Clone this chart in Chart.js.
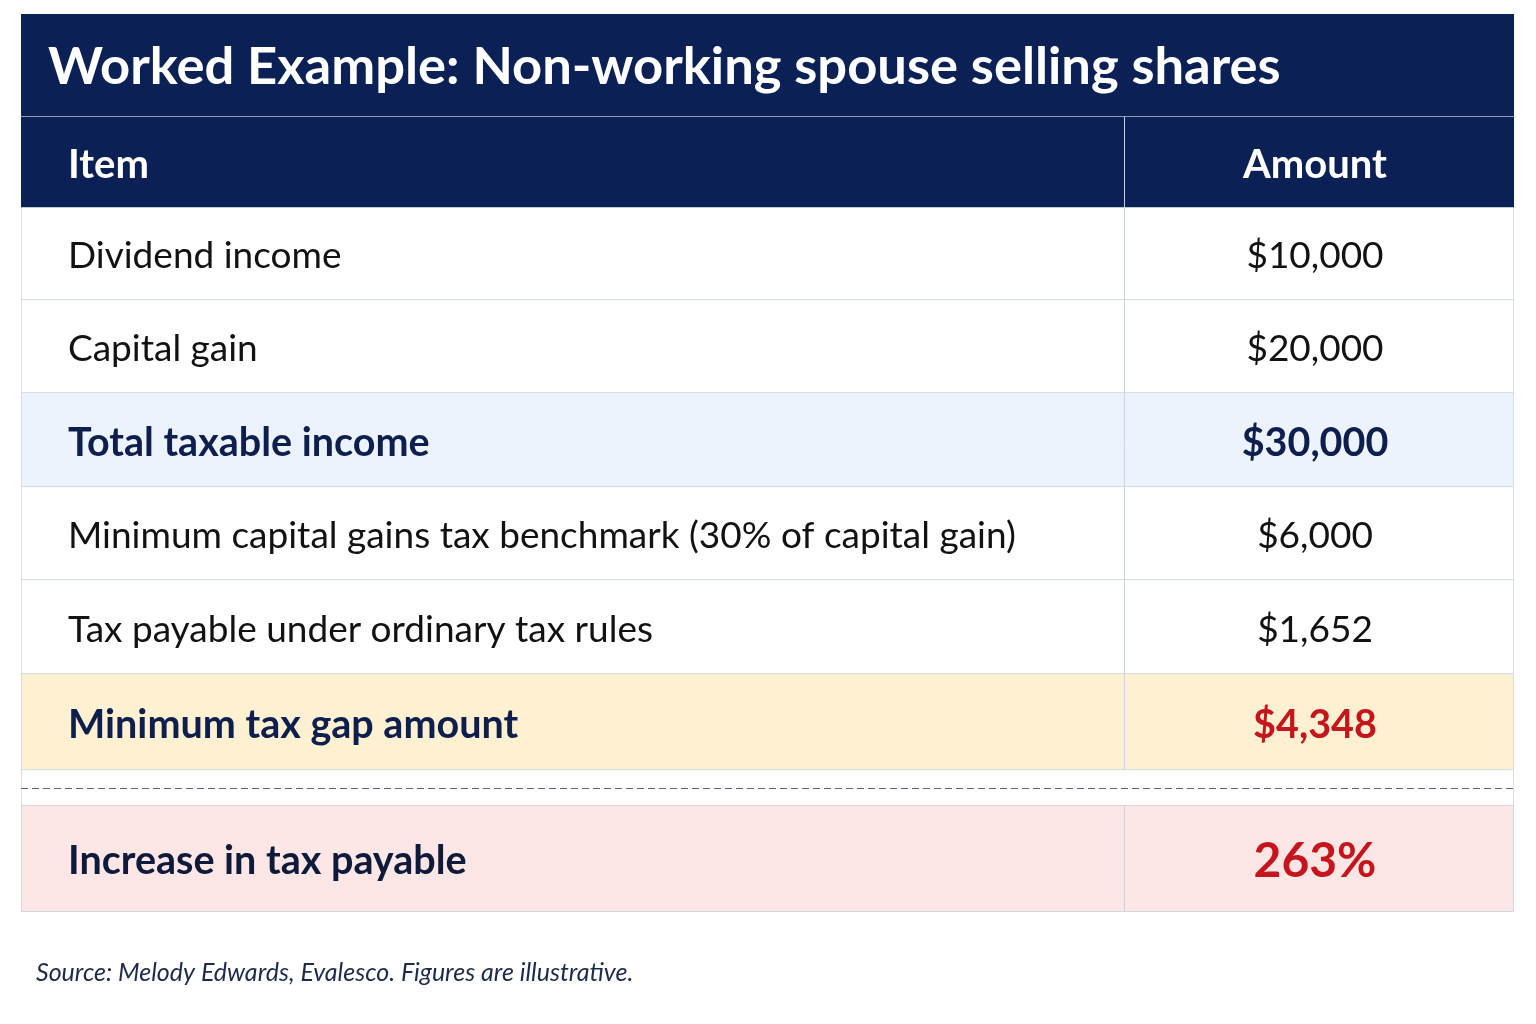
<!DOCTYPE html>
<html>
<head>
<meta charset="utf-8">
<script src="https://cdn.jsdelivr.net/npm/chart.js@4.4.1/dist/chart.umd.min.js"></script>
<style>
  html, body { margin: 0; padding: 0; background: #ffffff; }
  #wrap { width: 1536px; height: 1024px; }
</style>
</head>
<body>
<div id="wrap"><canvas id="tableChart" width="1536" height="1024"></canvas></div>
<script>
// table content
var titleText = "Worked Example: Non-working spouse selling shares";
var headerLabels = ["Item", "Amount"];
var items = [
  "Dividend income",
  "Capital gain",
  "Total taxable income",
  "Minimum capital gains tax benchmark (30% of capital gain)",
  "Tax payable under ordinary tax rules",
  "Minimum tax gap amount"
];
var amounts = ["$10,000", "$20,000", "$30,000", "$6,000", "$1,652", "$4,348"];
var resultLabel = "Increase in tax payable";
var resultValue = "263%";
var sourceText = "Source: Melody Edwards, Evalesco. Figures are illustrative.";

// layout (row heights in px units, top to bottom)
var titleH = 102, spacerH = 1, headerH = 90;
var rowHeights = [93, 93, 94, 93, 94, 96];
var gapH = 35, resultH = 107;
var tableW = 1493, splitAt = 1103, textLeft = 47, amountMid = 1294;
var textNudge = 3;

var NAVY = "#0b2155";
var BORDER = "#c9d3e2";
var rowStyles = [
  { bg: "#ffffff", bold: false, color: "#121212", amountColor: "#121212" },
  { bg: "#ffffff", bold: false, color: "#121212", amountColor: "#121212" },
  { bg: "#edf3fc", bold: true, color: "#0e1f4d", amountColor: "#0e1f4d" },
  { bg: "#ffffff", bold: false, color: "#121212", amountColor: "#121212" },
  { bg: "#ffffff", bold: false, color: "#121212", amountColor: "#121212" },
  { bg: "#fdf1d2", bold: true, color: "#0e1f4d", amountColor: "#c4161c" }
];

// build bands
var bands = [];
var y = 0;
bands.push({ key: "title", from: y, to: y + titleH, bg: NAVY, border: { top: 0, left: 0, right: 0, bottom: 0 } });
y += titleH + spacerH;
bands.push({ key: "header", from: y, to: y + headerH, bg: NAVY, border: { top: 0, left: 0, right: 0, bottom: 0 } });
y += headerH;
items.forEach(function (label, i) {
  bands.push({ key: "row" + i, from: y, to: y + rowHeights[i], bg: rowStyles[i].bg,
    border: { top: 0, left: 1, right: 1, bottom: 1 } });
  y += rowHeights[i];
});
bands.push({ key: "gap", from: y, to: y + gapH, bg: "#ffffff", border: { top: 0, left: 1, right: 1, bottom: 0 } });
y += gapH;
bands.push({ key: "result", from: y, to: y + resultH, bg: "#fce6e6", border: { top: 1, left: 1, right: 1, bottom: 1 } });
y += resultH;
var totalH = y;

var datasets = bands.map(function (b) {
  return {
    label: b.key,
    data: [[b.from, b.to]],
    backgroundColor: b.bg,
    borderColor: BORDER,
    borderWidth: b.border,
    borderSkipped: false,
    grouped: false,
    barPercentage: 1,
    categoryPercentage: 1
  };
});

function bandIndex(key) {
  for (var i = 0; i < bands.length; i++) if (bands[i].key === key) return i;
  return -1;
}

function bandBox(chart, key) {
  var el = chart.getDatasetMeta(bandIndex(key)).data[0];
  var p = el.getProps(["x", "y", "base", "width"], true);
  var top = Math.min(p.y, p.base), bottom = Math.max(p.y, p.base);
  return { top: top, bottom: bottom, mid: (top + bottom) / 2 };
}

var tablePlugin = {
  id: "tableText",
  afterDatasetsDraw: function (chart) {
    var ctx = chart.ctx;
    var cols = chart.scales.cols;
    var yS = chart.scales.y;
    var xText = cols.getPixelForValue(textLeft);
    var xMid = cols.getPixelForValue(amountMid);
    var xSplit = Math.round(cols.getPixelForValue(splitAt)) + 0.5;

    ctx.save();
    ctx.textBaseline = "middle";

    // column divider
    var head = bandBox(chart, "header");
    ctx.strokeStyle = "#c9d3e2";
    ctx.lineWidth = 1;
    ctx.beginPath();
    ctx.moveTo(xSplit, head.top);
    ctx.lineTo(xSplit, bandBox(chart, "row5").bottom);
    var res = bandBox(chart, "result");
    ctx.moveTo(xSplit, res.top);
    ctx.lineTo(xSplit, res.bottom);
    ctx.stroke();

    // dashed separator
    var gap = bandBox(chart, "gap");
    ctx.strokeStyle = "#5b6478";
    ctx.setLineDash([7, 4]);
    ctx.beginPath();
    ctx.moveTo(chart.chartArea.left, Math.round(gap.mid) + 0.5);
    ctx.lineTo(chart.chartArea.right, Math.round(gap.mid) + 0.5);
    ctx.stroke();
    ctx.setLineDash([]);

    // title
    var t = bandBox(chart, "title");
    ctx.fillStyle = "#ffffff";
    ctx.textAlign = "left";
    ctx.font = "bold 52.5px Lato";
    ctx.fillText(titleText, cols.getPixelForValue(27), t.mid + 2);

    // header
    ctx.font = "bold 40px Lato";
    ctx.fillText(headerLabels[0], xText, head.mid + textNudge);
    ctx.textAlign = "center";
    ctx.fillText(headerLabels[1], xMid, head.mid + textNudge);

    // body rows
    items.forEach(function (label, i) {
      var b = bandBox(chart, "row" + i);
      var st = rowStyles[i];
      ctx.font = st.bold ? "bold 39.5px Lato" : "37px Lato";
      ctx.textAlign = "left";
      ctx.fillStyle = st.color;
      ctx.fillText(label, xText, b.mid + textNudge);
      ctx.textAlign = "center";
      ctx.fillStyle = st.amountColor;
      ctx.fillText(amounts[i], xMid, b.mid + textNudge);
    });

    // result row
    ctx.textAlign = "left";
    ctx.fillStyle = "#0d1a3a";
    ctx.font = "bold 39.5px Lato";
    ctx.fillText(resultLabel, xText, res.mid + textNudge);
    ctx.textAlign = "center";
    ctx.fillStyle = "#c4161c";
    ctx.font = "bold 48px Lato";
    ctx.fillText(resultValue, xMid, res.mid + textNudge);

    // source note
    ctx.textAlign = "left";
    ctx.fillStyle = "#1e2a4a";
    ctx.font = "italic 25px Lato";
    ctx.fillText(sourceText, 36, yS.getPixelForValue(totalH) + 61);

    ctx.restore();
  }
};

document.addEventListener("DOMContentLoaded", function () {
  var canvas = document.getElementById("tableChart");
  new Chart(canvas.getContext("2d"), {
    type: "bar",
    data: { labels: ["table"], datasets: datasets },
    options: {
      responsive: false,
      devicePixelRatio: 1,
      animation: false,
      layout: { padding: { left: 21, right: 22, top: 14, bottom: 1024 - 14 - totalH } },
      plugins: { legend: { display: false }, tooltip: { enabled: false } },
      scales: {
        x: { display: false },
        cols: { type: "linear", axis: "x", position: "bottom", display: false, offset: false,
          grid: { offset: false }, min: 0, max: tableW },
        y: { type: "linear", display: false, reverse: true, min: 0, max: totalH }
      }
    },
    plugins: [tablePlugin]
  });
});
</script>
</body>
</html>
